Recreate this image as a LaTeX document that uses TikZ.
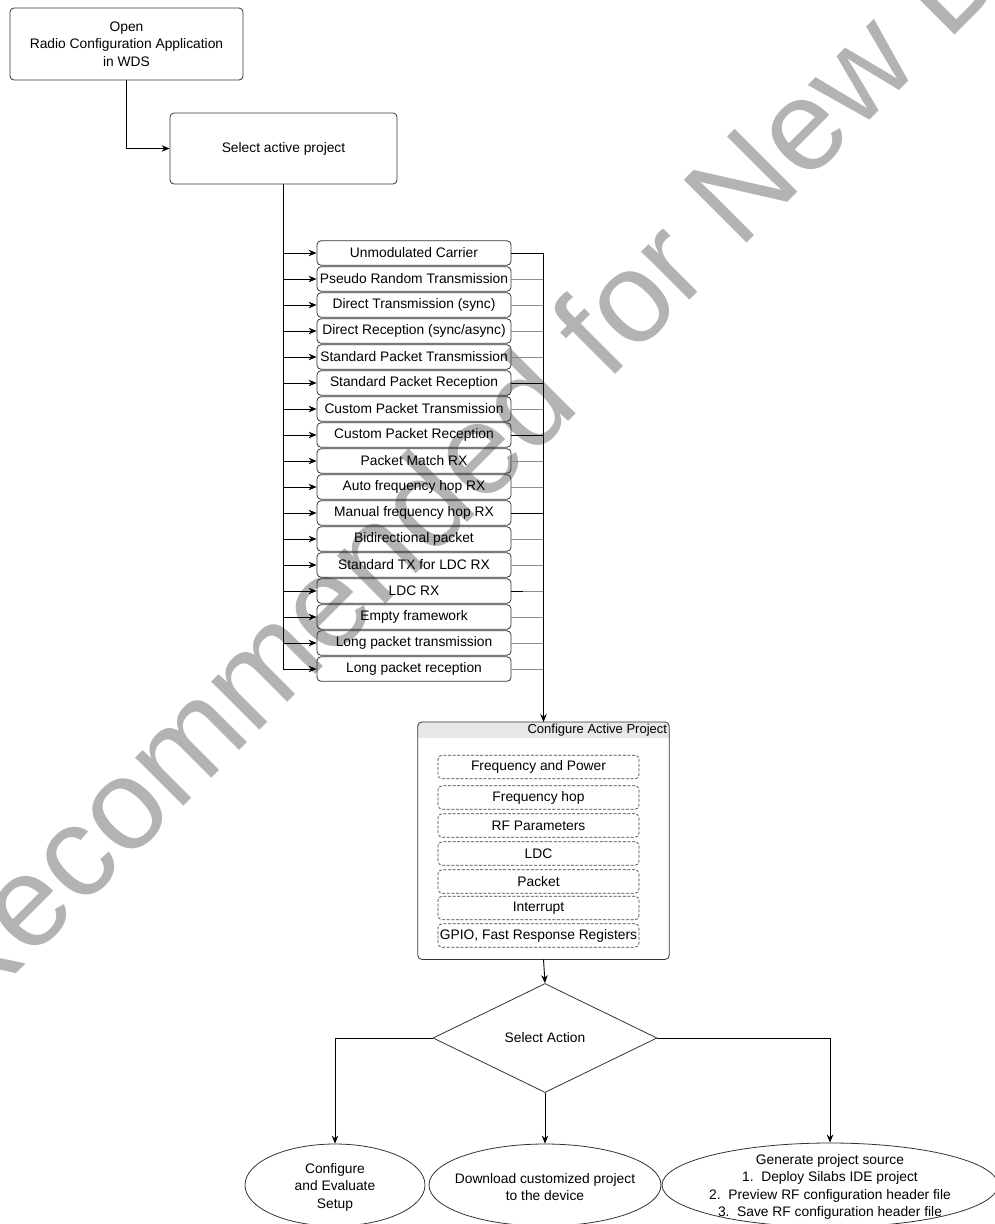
\documentclass[tikz,border=0pt]{standalone}
\usepackage{fontspec}
\setmainfont{Liberation Sans}
\usetikzlibrary{arrows.meta,shapes.geometric}
\definecolor{wm}{HTML}{B3B3B3}
\definecolor{hdr}{HTML}{E8E8E8}
\begin{document}
\begin{tikzpicture}[x=1pt,y=-1pt,
  every node/.style={font=\fontsize{13.8}{17.5}\selectfont, inner sep=0pt, align=center},
  box/.style={draw=black!80, rounded corners=4pt, line width=0.8pt},
  item/.style={box, minimum width=194pt, minimum height=24.5pt},
  subbox/.style={draw=black!75, rounded corners=4pt, line width=0.7pt, dash pattern=on 3pt off 1.6pt, minimum width=201pt, minimum height=23.5pt},
  conn/.style={line width=0.9pt, draw=black},
  gconn/.style={line width=0.9pt, draw=black!45},
  arr/.style={conn, -{Stealth[length=8pt,width=6.5pt]}},
  ]
\useasboundingbox (0,0) rectangle (995,1224);
\clip (0,0) rectangle (995,1224);

% watermark
\node[anchor=base west, rotate=45, text=wm, font=\fontsize{129}{129}\selectfont] (wmark) at (-36,1026) {Recommended for New Designs};

% top boxes
\node[box, minimum width=233pt, minimum height=72pt] (open) at (126.5,44) {Open\\Radio Configuration Application\\in WDS};
\node[box, minimum width=227pt, minimum height=71pt] (sel) at (283.5,148.5) {Select active project};

% project list
\foreach \t [count=\i] in {Unmodulated Carrier, Pseudo Random Transmission, Direct Transmission (sync), Direct Reception (sync/async), Standard Packet Transmission, Standard Packet Reception, Custom Packet Transmission, Custom Packet Reception, Packet Match RX, Auto frequency hop RX, Manual frequency hop RX, Bidirectional packet, Standard TX for LDC RX, LDC RX, Empty framework, Long packet transmission, Long packet reception}{
  \node[item] (it\i) at (414,{253+26*(\i-1)}) {\t};
}

% configure container
\node[minimum width=251pt, minimum height=237pt, anchor=north] (cfg) at (543.5,722) {};
\begin{scope}
  \clip[rounded corners=4pt] (cfg.north west) rectangle (cfg.south east);
  \fill[hdr] (cfg.north west) rectangle ([yshift=-16pt]cfg.north east);
\end{scope}
\draw[box] (cfg.north west) rectangle (cfg.south east);
\node[anchor=east, font=\fontsize{13}{15}\selectfont] (cfgt) at ([xshift=-2pt,yshift=-8.5pt]cfg.north east) {Configure Active Project};

\foreach \t/\yy [count=\i] in {Frequency and Power/767, Frequency hop/797.5, RF Parameters/825.5, LDC/853.5, Packet/881.5, Interrupt/908, {GPIO, Fast Response Registers}/935.5}{
  \node[subbox] (sb\i) at (538.5,\yy) {\t};
}

% decision and outcomes
\node[diamond, draw=black!80, line width=0.8pt, minimum width=224pt, minimum height=109pt] (dia) at (545,1038) {Select Action};
\node[ellipse, draw=black!80, line width=0.8pt, minimum width=180pt, minimum height=82pt] (e1) at (335,1185) {};
\node[ellipse, draw=black!80, line width=0.8pt, minimum width=232pt, minimum height=82pt] (e2) at (545,1185) {};
\node[ellipse, draw=black!80, line width=0.8pt, minimum width=336pt, minimum height=84pt] (e3) at (830,1185) {};
\node (e1t) at (335,1187) {Configure\\and Evaluate\\Setup};
\node (e2t) at (545,1187) {Download customized project\\to the device};
\node (e3t) at (830,1187) {Generate project source\\1.\ \ Deploy Silabs IDE project\\2.\ \ Preview RF configuration header file\\3.\ \ Save RF configuration header file};

% connectors
\draw[arr] (open.south) |- (sel.west);
\foreach \i in {1,...,16}{
  \draw[arr] (sel.south |- it\i.west) -- (it\i.west);
}
\draw[arr] (sel.south) |- (it17.west);
\foreach \i in {2,3,4,5,7,9,10,12,13,14,15,16,17}{
  \draw[gconn] (it\i.east) -- (it\i.east -| cfg.north);
}
\foreach \i in {6,8,11}{
  \draw[conn] (it\i.east) -- (it\i.east -| cfg.north);
}
\draw[conn] (it14.east) -- ([xshift=12pt]it14.east);
\draw[arr] (it1.east) -| (cfg.north);
\draw[arr] (cfg.south) -- (dia.north);
\draw[arr] (dia.west) -| (e1.north);
\draw[arr] (dia.south) -- (e2.north);
\draw[arr] (dia.east) -| (e3.north);
\end{tikzpicture}
\end{document}
